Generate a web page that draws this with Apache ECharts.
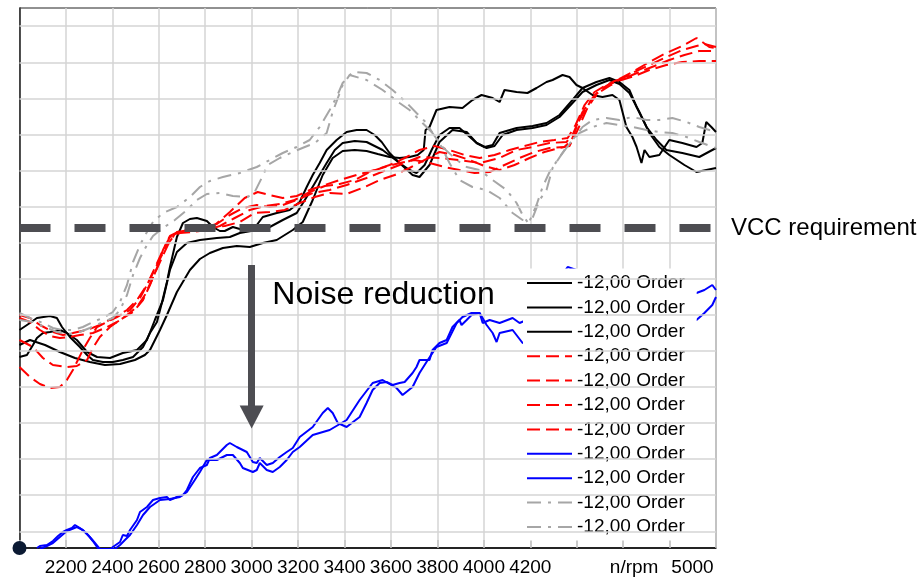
<!DOCTYPE html>
<html><head><meta charset="utf-8">
<script src="https://cdn.jsdelivr.net/npm/echarts@6/dist/echarts.min.js"></script>
<style>html,body{margin:0;padding:0;background:#fff}#c{width:924px;height:577px}</style>
</head><body><div id="c"></div>
<script>
// ---- data (x: engine speed n/rpm, y: level in arbitrary units) ----
const seriesLabel = '-12,00 Order';
const black1 = [[2000,218],[2045,225],[2075,230],[2131,232],[2161,230],[2183,221],[2217,211],[2260,201],[2291,193],[2316,188],[2359,186],[2402,186],[2445,188],[2489,191],[2532,201],[2562,215],[2592,226],[2613,245],[2635,266],[2648,281],[2665,298],[2678,311],[2704,325],[2734,329],[2764,330],[2807,327],[2833,321],[2863,317],[2884,317],[2919,321],[2949,319],[2979,320],[3022,323],[3048,331],[3078,333],[3108,335],[3164,338],[3207,346],[3237,361],[3263,373],[3293,385],[3323,398],[3366,408],[3409,416],[3452,418],[3495,418],[3530,413],[3560,406],[3594,395],[3637,385],[3680,378],[3710,375],[3745,383],[3775,398],[3809,413],[3852,420],[3895,420],[3930,413],[3969,405],[4003,401],[4038,403],[4068,415],[4141,420],[4210,422],[4270,425],[4326,433],[4382,448],[4425,460],[4485,466],[4541,470],[4584,466],[4627,458],[4658,441],[4701,421],[4744,408],[4786,398],[4855,395],[4928,391],[5000,400]];
const black2 = [[2000,191],[2032,193],[2058,203],[2075,210],[2101,215],[2131,216],[2174,218],[2204,215],[2247,208],[2291,196],[2334,191],[2390,190],[2445,195],[2506,198],[2549,208],[2583,228],[2618,248],[2648,278],[2678,296],[2721,305],[2777,308],[2850,310],[2906,311],[2949,315],[3022,318],[3078,321],[3134,328],[3194,335],[3237,351],[3280,368],[3323,385],[3358,398],[3392,405],[3444,407],[3495,406],[3564,398],[3637,385],[3693,373],[3723,371],[3766,383],[3809,406],[3865,418],[3926,416],[3969,405],[4012,400],[4046,402],[4081,413],[4141,418],[4210,420],[4270,423],[4326,431],[4382,445],[4425,456],[4485,463],[4541,468],[4584,464],[4627,455],[4670,436],[4713,415],[4756,401],[4799,393],[4864,383],[4916,376],[5000,380]];
const black3 = [[2000,203],[2045,208],[2110,203],[2174,196],[2239,190],[2303,186],[2368,183],[2433,184],[2497,188],[2540,193],[2562,198],[2605,218],[2635,233],[2678,256],[2734,278],[2777,289],[2820,295],[2876,300],[2936,302],[2992,301],[3048,305],[3108,308],[3177,318],[3220,326],[3263,348],[3306,373],[3349,390],[3392,397],[3444,398],[3495,397],[3543,394],[3594,391],[3637,390],[3680,391],[3715,393],[3741,398],[3749,418],[3766,421],[3796,438],[3852,441],[3908,440],[3951,448],[3990,453],[4038,450],[4068,446],[4089,458],[4141,456],[4188,455],[4227,460],[4270,466],[4296,468],[4339,473],[4369,471],[4399,463],[4425,460],[4468,453],[4511,451],[4554,453],[4584,448],[4614,421],[4640,411],[4658,401],[4679,385],[4692,398],[4713,391],[4756,393],[4799,408],[4855,405],[4916,401],[4941,405],[4958,426],[4980,421],[5000,416]];
const red1 = [[2000,233],[2045,230],[2088,223],[2144,216],[2187,213],[2230,215],[2291,218],[2346,223],[2402,230],[2463,238],[2506,248],[2549,263],[2592,283],[2635,303],[2678,316],[2734,318],[2790,320],[2850,324],[2906,333],[2962,340],[3022,343],[3078,341],[3134,343],[3194,348],[3263,355],[3336,358],[3409,363],[3495,370],[3581,378],[3637,383],[3723,391],[3809,390],[3895,388],[3982,385],[4068,390],[4141,398],[4210,401],[4283,405],[4356,406],[4382,413],[4425,436],[4468,450],[4498,458],[4541,464],[4584,469],[4640,476],[4713,486],[4786,495],[4855,502],[4916,510],[4941,506],[4971,501],[5000,500]];
const red2 = [[2000,208],[2058,201],[2101,190],[2144,183],[2204,181],[2247,182],[2291,188],[2316,200],[2346,211],[2390,221],[2433,228],[2489,236],[2532,248],[2562,263],[2592,280],[2618,298],[2648,312],[2691,317],[2755,318],[2820,320],[2884,322],[2949,326],[3013,335],[3078,336],[3142,338],[3207,345],[3272,351],[3336,355],[3409,354],[3487,361],[3551,368],[3616,373],[3680,380],[3745,388],[3809,396],[3874,393],[3938,388],[4003,382],[4068,378],[4132,383],[4197,390],[4261,396],[4326,400],[4369,402],[4404,418],[4442,438],[4485,454],[4541,464],[4593,468],[4649,472],[4713,478],[4786,483],[4855,486],[4928,487],[5000,487]];
const red3 = [[2000,181],[2045,171],[2088,164],[2131,160],[2174,161],[2204,168],[2230,178],[2273,198],[2303,210],[2334,221],[2377,226],[2420,231],[2476,238],[2519,250],[2549,263],[2583,280],[2618,298],[2648,311],[2691,315],[2747,316],[2807,318],[2863,322],[2927,330],[2992,338],[3056,342],[3121,344],[3185,348],[3250,356],[3315,362],[3379,364],[3444,368],[3508,376],[3573,381],[3637,385],[3702,388],[3766,385],[3831,381],[3895,378],[3960,375],[4025,376],[4089,383],[4154,390],[4218,396],[4283,400],[4347,401],[4378,408],[4412,428],[4455,445],[4498,456],[4541,462],[4584,468],[4640,475],[4713,483],[4786,491],[4855,498],[4916,502],[4950,504],[5000,501]];
const red4 = [[2000,230],[2045,226],[2088,218],[2131,212],[2174,210],[2217,211],[2260,213],[2316,215],[2368,220],[2420,226],[2463,233],[2506,241],[2540,253],[2570,268],[2605,286],[2639,303],[2669,314],[2721,317],[2777,319],[2841,323],[2906,336],[2970,350],[3026,356],[3078,353],[3134,350],[3194,352],[3250,358],[3315,363],[3379,368],[3452,373],[3530,378],[3594,383],[3659,390],[3723,398],[3788,402],[3852,398],[3917,393],[3982,390],[4046,393],[4111,398],[4175,402],[4240,406],[4304,408],[4361,410],[4395,423],[4434,443],[4477,456],[4520,462],[4563,467],[4619,471],[4670,476],[4735,482],[4799,488],[4864,493],[4928,497],[5000,497]];
const blue1 = [[2075,0],[2088,2],[2118,3],[2144,7],[2166,12],[2187,16],[2204,18],[2226,20],[2239,23],[2260,20],[2282,16],[2295,13],[2316,7],[2334,1],[2346,-2],[2390,-2],[2402,1],[2433,6],[2445,13],[2463,12],[2476,18],[2506,28],[2519,36],[2549,41],[2575,48],[2605,50],[2635,51],[2648,48],[2678,51],[2704,53],[2721,58],[2747,71],[2777,80],[2807,83],[2820,90],[2850,93],[2893,103],[2906,105],[2936,101],[2979,96],[3005,86],[3022,85],[3035,90],[3065,83],[3091,85],[3121,91],[3151,96],[3177,100],[3207,111],[3263,121],[3306,135],[3328,140],[3349,135],[3371,125],[3409,121],[3431,125],[3465,131],[3495,145],[3521,158],[3551,165],[3581,166],[3607,163],[3637,165],[3659,166],[3693,175],[3710,181],[3723,188],[3766,188],[3779,198],[3809,205],[3840,208],[3865,221],[3895,228],[3904,223],[3926,228],[3947,233],[3982,235],[3995,225],[4025,228],[4068,225],[4124,230],[4154,225],[4184,228],[4240,243],[4304,263],[4361,281],[4399,278],[4455,268],[4520,263],[4584,258],[4670,256],[4756,253],[4842,253],[4916,255],[4950,258],[4984,263],[5000,258]];
const blue2 = [[2088,-1],[2118,2],[2144,5],[2174,11],[2204,17],[2226,19],[2247,21],[2273,18],[2303,11],[2325,5],[2346,-1],[2411,-1],[2433,3],[2454,8],[2476,13],[2506,23],[2532,33],[2562,41],[2605,48],[2648,49],[2691,51],[2721,56],[2755,68],[2777,76],[2807,88],[2850,88],[2893,93],[2919,93],[2949,85],[2962,80],[3005,76],[3022,78],[3035,85],[3065,78],[3091,76],[3121,81],[3151,88],[3177,96],[3207,101],[3263,113],[3336,118],[3409,128],[3465,148],[3521,165],[3564,168],[3624,160],[3650,153],[3693,161],[3723,175],[3753,186],[3796,201],[3840,205],[3883,225],[3908,231],[3947,235],[3982,235],[4012,223],[4038,215],[4055,206],[4068,215],[4124,218],[4167,205],[4240,208],[4326,213],[4412,218],[4498,220],[4584,223],[4670,223],[4756,226],[4842,226],[4916,228],[4950,235],[4984,243],[5000,251]];
const gray1 = [[2000,235],[2045,230],[2101,225],[2144,220],[2187,218],[2230,218],[2273,221],[2316,226],[2359,230],[2402,236],[2433,246],[2463,263],[2489,286],[2519,303],[2549,316],[2575,326],[2618,335],[2678,341],[2734,351],[2777,361],[2820,367],[2876,371],[2949,375],[3022,381],[3078,388],[3134,395],[3194,401],[3250,408],[3293,421],[3336,438],[3366,451],[3392,465],[3435,476],[3495,475],[3551,468],[3607,458],[3668,445],[3710,435],[3753,425],[3779,415],[3809,405],[3852,385],[3895,368],[3951,361],[4012,358],[4068,350],[4124,335],[4167,328],[4197,327],[4227,343],[4253,361],[4283,376],[4326,391],[4382,408],[4425,421],[4468,428],[4528,430],[4584,428],[4640,431],[4701,428],[4756,428],[4812,430],[4873,426],[4928,421],[5000,416]];
const gray2 = [[2000,228],[2058,226],[2110,221],[2161,216],[2204,214],[2247,215],[2303,220],[2359,226],[2402,230],[2433,238],[2463,253],[2489,273],[2519,290],[2549,303],[2575,312],[2618,320],[2669,328],[2721,338],[2764,348],[2807,354],[2863,355],[2919,352],[2983,351],[3013,356],[3043,370],[3069,383],[3121,390],[3177,396],[3229,401],[3272,405],[3323,415],[3349,436],[3392,463],[3422,473],[3495,468],[3564,458],[3637,445],[3680,438],[3736,425],[3779,415],[3822,401],[3883,388],[3926,381],[3982,378],[4038,368],[4098,358],[4141,345],[4167,333],[4188,326],[4210,330],[4240,348],[4270,358],[4296,380],[4356,401],[4412,415],[4468,421],[4528,425],[4584,423],[4640,421],[4701,418],[4756,416],[4812,415],[4873,411],[4928,406],[5000,400]];

const gridLevels = [16.7, 52.8, 88.9, 124.9, 161.0, 197.1, 233.2, 269.3, 305.3, 341.4, 377.5, 413.6, 449.7, 485.7, 521.8];
const vccLevel = 320;
const vccLabel = 'VCC requirement';
const arrowFrom = [3000, 283];
const arrowTo = [3000, 131];
const noteText = 'Noise reduction';
const noteAt = [3087, 253];
const xLabeledTicks = [2200, 2400, 2600, 2800, 3000, 3200, 3400, 3600, 3800, 4000, 4200];
const unitTick = 4600;
const axisUnit = 'n/rpm';
const endTick = 5000;

// ---- chart ----
const FONT = "'Liberation Sans', Arial, Helvetica, sans-serif";
const dataSets = [black1, black2, black3, red1, red2, red3, red4, blue1, blue2, gray1, gray2];
const looks = [
  {c:'#000000', t:'solid'}, {c:'#000000', t:'solid'}, {c:'#000000', t:'solid'},
  {c:'#ff0000', t:[13,6]}, {c:'#ff0000', t:[13,6]}, {c:'#ff0000', t:[13,6]}, {c:'#ff0000', t:[13,6]},
  {c:'#0000ff', t:'solid'}, {c:'#0000ff', t:'solid'},
  {c:'#a6a6a6', t:[14,7,3,7]}, {c:'#a6a6a6', t:[14,7,3,7]}
];
const names = dataSets.map((d, i) => 's' + i);

const series = dataSets.map((d, i) => ({
  name: names[i], type: 'line', data: d, symbol: 'none', showSymbol: false, clip: true,
  z: 2, silent: true,
  lineStyle: {color: looks[i].c, width: 2, type: looks[i].t},
  itemStyle: {color: looks[i].c, opacity: 0}
}));

series.unshift({
  name: 'gridlines', type: 'line', data: [], z: 1, silent: true, clip: false,
  markLine: {
    silent: true, symbol: ['none', 'none'], animation: false,
    label: {show: false},
    lineStyle: {color: '#d4d4d4', width: 1.5, type: 'solid'},
    data: gridLevels.map(v => ({yAxis: v}))
  }
});

const annColor = '#4d4d52';
series.push({
  name: 'annotations', type: 'line', data: [], z: 5, silent: true, clip: false,
  markLine: {
    silent: true, symbol: ['none', 'none'], animation: false,
    data: [
      {yAxis: vccLevel, lineStyle: {color: annColor, width: 8, type: [31, 24]},
       label: {show: true, position: 'end', distance: 15, formatter: vccLabel, fontSize: 24, color: '#000', fontFamily: FONT, padding: [4, 0, 0, 0]}},
      [{coord: arrowFrom, symbol: 'none', lineStyle: {color: annColor, width: 7, type: 'solid'}, label: {show: false}},
       {coord: arrowTo, symbol: 'triangle', symbolSize: [24, 23], lineStyle: {color: annColor, width: 7, type: 'solid'}, label: {show: false}}]
    ]
  },
  markPoint: {
    silent: true, animation: false,
    data: [
      {coord: noteAt, symbol: 'circle', symbolSize: 1, itemStyle: {color: 'rgba(0,0,0,0)'},
       label: {show: true, position: 'right', distance: 0, formatter: noteText, fontSize: 32, color: '#000', fontFamily: FONT}},
      {coord: [2000, 0], symbol: 'circle', symbolSize: 14, itemStyle: {color: '#0b1a33'}, label: {show: false}}
    ]
  }
});

const chart = echarts.init(document.getElementById('c'), null, {renderer: 'canvas'});
chart.setOption({
  animation: false,
  backgroundColor: '#ffffff',
  textStyle: {fontFamily: FONT},
  grid: {left: 19.5, right: 208, top: 8, bottom: 29, show: true, borderColor: '#222', borderWidth: 1, backgroundColor: 'transparent'},
  xAxis: {
    type: 'value', min: 2000, max: 5000, interval: 200,
    axisLine: {show: true, onZero: false, lineStyle: {color: '#000', width: 1.5}},
    axisTick: {show: true, inside: true, length: 8, lineStyle: {color: '#c4c4c4', width: 1.5}},
    splitLine: {show: true, lineStyle: {color: '#d4d4d4', width: 1.5}},
    axisLabel: {
      interval: 0, margin: 10, fontSize: 19, color: '#000', fontFamily: FONT,
      showMinLabel: true, showMaxLabel: true, hideOverlap: false,
      formatter: v => {
        if (xLabeledTicks.includes(v)) return String(v);
        if (v === unitTick) return '{u|' + axisUnit + '}';
        if (v === endTick) return '{e|' + endTick + '}';
        return '';
      },
      rich: {
        u: {fontSize: 19, color: '#000', fontFamily: FONT, padding: [0, 0, 0, 22]},
        e: {fontSize: 19, color: '#000', fontFamily: FONT, padding: [0, 47, 0, 0]}
      }
    }
  },
  yAxis: {
    type: 'value', min: 0, max: 540,
    axisLine: {show: true, lineStyle: {color: '#222', width: 1.5}},
    axisTick: {show: false}, axisLabel: {show: false}, splitLine: {show: false}
  },
  legend: {
    data: names, orient: 'vertical', left: 523, top: 268.5,
    padding: [5, 12, 4, 3], itemWidth: 45, itemHeight: 14, itemGap: 5.4,
    backgroundColor: '#ffffff', selectedMode: false,
    itemStyle: {opacity: 0},
    formatter: () => seriesLabel,
    textStyle: {fontSize: 19, color: '#000', fontFamily: FONT, lineHeight: 19}
  },
  series: series
});
</script>
</body></html>
